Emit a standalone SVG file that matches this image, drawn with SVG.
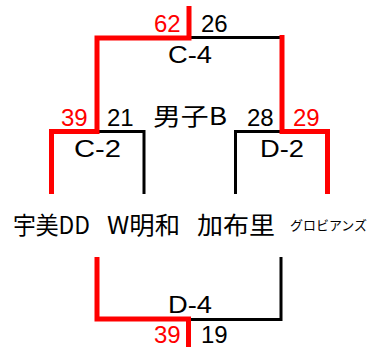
<svg xmlns="http://www.w3.org/2000/svg" width="368" height="347" viewBox="0 0 368 347">
<style>
.bk{fill:none;stroke:#000;stroke-width:3;stroke-linejoin:miter}
.rd{fill:none;stroke:#FF0000;stroke-width:5;stroke-linejoin:miter}
.num{font-family:"Liberation Sans",Arial,sans-serif;font-size:24px;fill:#000}
.red{fill:#FF0000}
.jp{font-family:"Noto Sans CJK JP","Noto Sans",sans-serif;font-size:24px;fill:#000}
.sm{font-size:13px}
</style>
<rect width="368" height="347" fill="#fff"/>
<g id="connectors">
  <path class="bk" d="M189,37.5 H282"/>
  <path class="bk" d="M97,131.5 H144 V194"/>
  <path class="bk" d="M282,131.5 H235.5 V194"/>
  <path class="bk" d="M188.5,319.5 H281 V257"/>
  <path class="rd" d="M189,6 V38 H97 V131.5 H51.5 V194"/>
  <path class="rd" d="M282,35 V131.5 H327.5 V194"/>
  <path class="rd" d="M97,257 V319 H188.5 V347"/>
</g>
<g id="title">
  <text class="jp" x="153" y="125" textLength="74" lengthAdjust="spacingAndGlyphs">男子B</text>
</g>
<g id="match-C4">
  <text class="num red" x="154" y="31.5">62</text>
  <text class="num" x="201" y="31.5">26</text>
  <text class="num" x="168" y="63" textLength="44" lengthAdjust="spacingAndGlyphs">C-4</text>
</g>
<g id="match-C2">
  <text class="num red" x="61" y="126">39</text>
  <text class="num" x="107" y="126">21</text>
  <text class="num" x="74" y="157" textLength="47" lengthAdjust="spacingAndGlyphs">C-2</text>
</g>
<g id="match-D2">
  <text class="num" x="247" y="126">28</text>
  <text class="num red" x="293" y="126">29</text>
  <text class="num" x="260" y="157" textLength="44" lengthAdjust="spacingAndGlyphs">D-2</text>
</g>
<g id="match-D4">
  <text class="num" x="168" y="313" textLength="44" lengthAdjust="spacingAndGlyphs">D-4</text>
  <text class="num red" x="154" y="343">39</text>
  <text class="num" x="201" y="343">19</text>
</g>
<g id="team-umi">
  <text class="jp" x="13" y="234" textLength="77" lengthAdjust="spacingAndGlyphs">宇美DD</text>
</g>
<g id="team-wmeiwa">
  <text class="jp" x="107" y="234" textLength="73" lengthAdjust="spacingAndGlyphs">W明和</text>
</g>
<g id="team-kafuri">
  <text class="jp" x="197" y="234" textLength="78" lengthAdjust="spacingAndGlyphs">加布里</text>
</g>
<g id="team-globians">
  <text class="jp sm" x="290" y="230" textLength="77" lengthAdjust="spacingAndGlyphs">グロビアンズ</text>
</g>
</svg>
